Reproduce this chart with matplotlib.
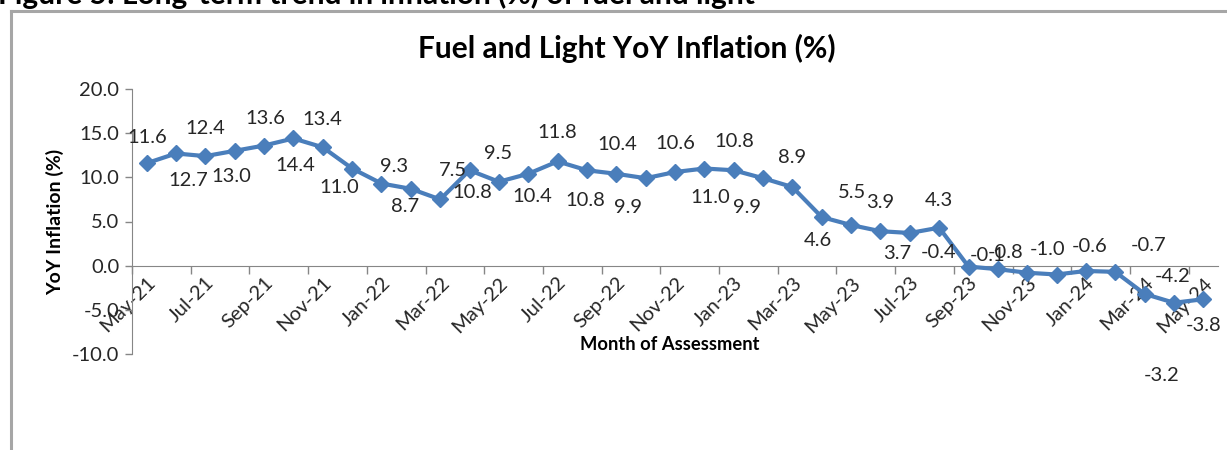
import matplotlib
matplotlib.use("Agg")
import matplotlib.pyplot as plt
from matplotlib.lines import Line2D

# ---------------- data ----------------
months = ["May-21", "Jun-21", "Jul-21", "Aug-21", "Sep-21", "Oct-21", "Nov-21", "Dec-21",
          "Jan-22", "Feb-22", "Mar-22", "Apr-22", "May-22", "Jun-22", "Jul-22", "Aug-22",
          "Sep-22", "Oct-22", "Nov-22", "Dec-22", "Jan-23", "Feb-23", "Mar-23", "Apr-23",
          "May-23", "Jun-23", "Jul-23", "Aug-23", "Sep-23", "Oct-23", "Nov-23", "Dec-23",
          "Jan-24", "Feb-24", "Mar-24", "Apr-24", "May-24"]
inflation = [11.6, 12.7, 12.4, 13.0, 13.6, 14.4, 13.4, 11.0, 9.3, 8.7, 7.5,
             10.8, 9.5, 10.4, 11.8, 10.8, 10.4, 9.9, 10.6, 11.0, 10.8, 9.9, 8.9,
             5.5, 4.6, 3.9, 3.7, 4.3, -0.1, -0.4, -0.8, -1.0, -0.6, -0.7, -3.2, -4.2, -3.8]
# data labels as printed on the chart (index of point they sit next to, text)
label_idx = [0, 1, 2, 3, 4, 5, 6, 7, 8, 9, 10, 11, 12, 13, 14, 15, 16, 17, 18, 19, 20,
             21, 22, 23, 24, 25, 26, 27, 28, 29, 30, 31, 32, 33, 34, 35, 36]
label_txt = ["11.6", "12.7", "12.4", "13.0", "13.6", "14.4", "13.4", "11.0", "9.3", "8.7",
             "7.5", "10.8", "9.5", "10.4", "11.8", "10.8", "10.4", "9.9", "10.6", "11.0",
             "10.8", "9.9", "8.9", "4.6", "5.5", "3.9", "3.7", "4.3", "-0.4", "-0.1",
             "-0.8", "-1.0", "-0.6", "-0.7", "-3.2", "-4.2", "-3.8"]
# label offsets in pixels (dx, dy) relative to each point (layout only)
label_off = [(1, 26), (12, -27), (0, 28), (-3, -26), (1, 27), (2, -27), (0, 28),
             (-13, -19), (13, 17), (-6, -18), (13, 29), (3, -22), (-1, 28), (4, -23),
             (0, 29), (-2, -30), (1, 29), (-18, -29), (0, 29), (6, -29), (1, 29),
             (-16, -29), (0, 30), (-4, -23), (1, 33), (0, 29), (-13, -21), (0, 27),
             (-30, 14), (-10, 14), (-22, 20), (-9, 25), (4, 24), (33, 26), (17, -82),
             (-1, 26), (0, -26)]
yticks = [-10, -5, 0, 5, 10, 15, 20]

# ---------------- style ----------------
W, H, DPI = 1227, 450, 100
plt.rcParams['font.family'] = ['Lato', 'DejaVu Sans']
line_col = "#4A7EBB"
axis_col = "#868686"
text_col = "#262626"

fig = plt.figure(figsize=(W / DPI, H / DPI), dpi=DPI)
fig.patch.set_facecolor("white")

# chart border (left and top)
fig.add_artist(Line2D([11 / W, 11 / W], [0, 1 - 11 / H], transform=fig.transFigure,
                      color="#a6a6a6", lw=2.2))
fig.add_artist(Line2D([11 / W, 1], [1 - 11 / H, 1 - 11 / H], transform=fig.transFigure,
                      color="#a6a6a6", lw=2.2))
# cut-off caption at top
fig.text(-2 / W, 1 - 4 / H, "Figure 5: Long-term trend in inflation (%) of fuel and light",
         ha="left", va="baseline", fontsize=21.5, fontweight="bold", color="black")

ax = fig.add_axes([132 / W, 96 / H, (1218 - 132) / W, (354 - 89) / H])
x = list(range(len(months)))
ax.plot(x, inflation, color=line_col, lw=3, marker="D", markersize=8.5,
        markerfacecolor=line_col, markeredgecolor=line_col, zorder=3)

ax.set_xlim(-0.5, len(months) - 0.5)
ax.set_ylim(min(yticks), max(yticks))
ax.set_yticks(yticks)
ax.set_yticklabels([f"{v:.1f}" for v in yticks], fontsize=14.5, color=text_col)

for s in ["top", "right"]:
    ax.spines[s].set_visible(False)
ax.spines["left"].set_color(axis_col)
ax.spines["bottom"].set_color(axis_col)
ax.spines["bottom"].set_position(("data", 0))
ax.tick_params(axis="y", colors=axis_col, length=5, width=1, labelcolor=text_col, pad=4)

# x: major ticks at category boundaries (every 2), minor at centers carrying labels
ax.set_xticks([i - 0.5 for i in range(0, len(months), 2)])
ax.set_xticklabels([])
ax.tick_params(axis="x", which="major", colors=axis_col, length=6, width=1)
ax.set_xticks(list(range(0, len(months), 2)), minor=True)
ax.set_xticklabels(months[::2], minor=True, rotation=45, ha="right", va="top",
                   rotation_mode="anchor", fontsize=14.5, color=text_col)
ax.tick_params(axis="x", which="minor", length=0, pad=6)

for i, t, (dx, dy) in zip(label_idx, label_txt, label_off):
    ax.annotate(t, (x[i], inflation[i]), xytext=(dx, dy), textcoords="offset pixels",
                ha="center", va="center", fontsize=14.5, color=text_col, zorder=4)

ax.set_ylabel("YoY Inflation (%)", fontsize=14, fontweight="bold", color="black",
              labelpad=6)
fig.text(670 / W, 1 - 344 / H, "Month of Assessment", ha="center", va="center",
         fontsize=13.2, fontweight="bold", color="black")
fig.text(627 / W, 1 - 48 / H, "Fuel and Light YoY Inflation (%)", ha="center",
         va="center", fontsize=21.5, fontweight="bold", color="black")

fig.savefig("out.png", dpi=DPI, facecolor="white")
